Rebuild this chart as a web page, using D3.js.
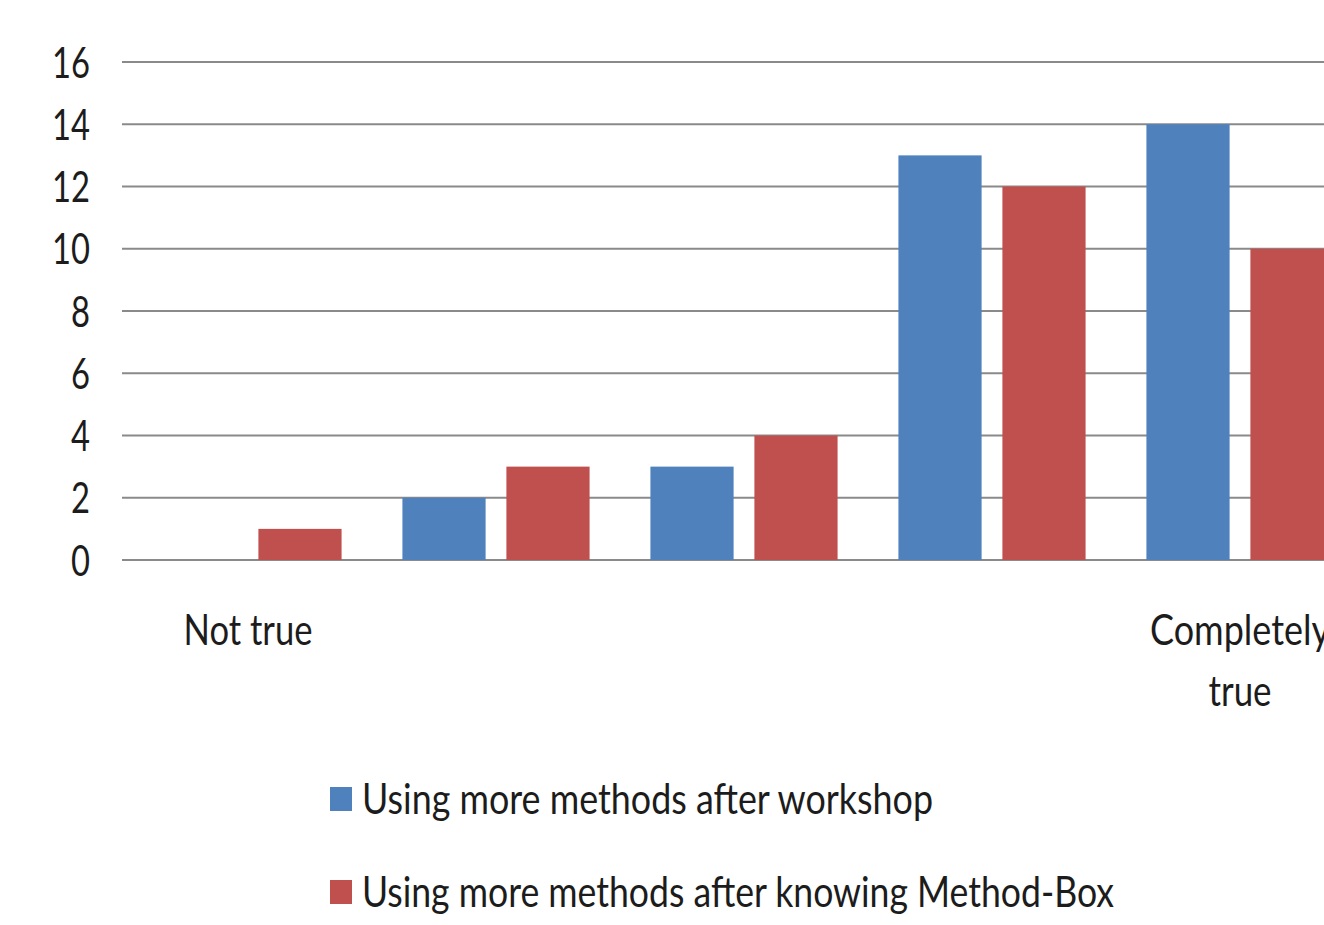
<!DOCTYPE html>
<html>
<head>
<meta charset="utf-8">
<script src="https://cdn.jsdelivr.net/npm/d3@7"></script>
<style>
  html, body { margin: 0; padding: 0; background: #ffffff; overflow: hidden; }
  svg { display: block; }
  text { font-family: Lato, "Open Sans", sans-serif; fill: #1c1c1c; }
</style>
</head>
<body>
<svg id="chart" width="1324" height="925"></svg>
<script>
const categories = ["Not true", "", "", "", "Completely true"];
const seriesNames = ["Using more methods after workshop", "Using more methods after knowing Method-Box"];
const workshopValues = [0, 2, 3, 13, 14];
const methodBoxValues = [1, 3, 4, 12, 10];
const yTicks = [0, 2, 4, 6, 8, 10, 12, 14, 16];
const colors = ["#4F81BD", "#C0504D"];

const svg = d3.select("#chart");
const W = 1324, H = 925;
const FS = 42;

const x0 = d3.scaleBand().domain(d3.range(categories.length)).range([124, 1364]).padding(0);
const x1 = d3.scaleBand().domain([0, 1]).range([0, x0.bandwidth()]).paddingInner(0.2).paddingOuter(0.2925);
const y = d3.scaleLinear().domain([0, 16]).range([560, 62]);

// gridlines
const grid = svg.append("g");
grid.selectAll("line").data(yTicks).join("line")
  .attr("x1", 122).attr("x2", W + 10)
  .attr("y1", d => y(d)).attr("y2", d => y(d))
  .attr("stroke", "#8a8a8a").attr("stroke-width", 2.2);

// y axis labels
const yAxis = d3.axisLeft(y).tickValues(yTicks).tickSize(0).tickPadding(0);
const yg = svg.append("g").attr("transform", "translate(90,0)").call(yAxis);
yg.select(".domain").remove();
yg.selectAll("text")
  .attr("font-size", FS).attr("dy", "0.36em")
  .attr("font-family", null).attr("fill", "#1c1c1c")
  .attr("textLength", d => String(d).length * 19)
  .attr("lengthAdjust", "spacingAndGlyphs");

// bars
const rows = categories.map((c, i) => [workshopValues[i], methodBoxValues[i]]);
const groups = svg.append("g").selectAll("g").data(rows).join("g")
  .attr("transform", (d, i) => `translate(${x0(i)},0)`);
groups.selectAll("rect").data(d => d.map((v, k) => ({ v, k }))).join("rect")
  .attr("x", d => x1(d.k))
  .attr("width", x1.bandwidth())
  .attr("y", d => y(d.v))
  .attr("height", d => y(0) - y(d.v))
  .attr("fill", d => colors[d.k]);

// category labels (text widths tuned to the narrow look of the original)
const widthOf = { "Not true": 129, "Completely": 180, "true": 63 };
const xl = svg.append("g");
categories.forEach((c, i) => {
  if (!c) return;
  const words = c.split(" ");
  const lines = c === "Not true" ? [c] : [words[0], words.slice(1).join(" ")];
  const cx = x0(i) + x0.bandwidth() / 2;
  lines.forEach((ln, j) => {
    xl.append("text")
      .attr("x", cx)
      .attr("y", 645 + j * 61)
      .attr("text-anchor", "middle")
      .attr("font-size", FS)
      .attr("textLength", widthOf[ln])
      .attr("lengthAdjust", "spacingAndGlyphs")
      .text(ln);
  });
});

// legend
const legendWidths = [571, 752];
const legend = svg.append("g");
seriesNames.forEach((name, k) => {
  const ly = 799 + k * 93;
  legend.append("rect").attr("x", 330).attr("y", ly - 12).attr("width", 22).attr("height", 24).attr("fill", colors[k]);
  legend.append("text").attr("x", 362).attr("y", ly + 15).attr("font-size", FS)
    .attr("textLength", legendWidths[k]).attr("lengthAdjust", "spacingAndGlyphs")
    .text(name);
});
</script>
</body>
</html>
